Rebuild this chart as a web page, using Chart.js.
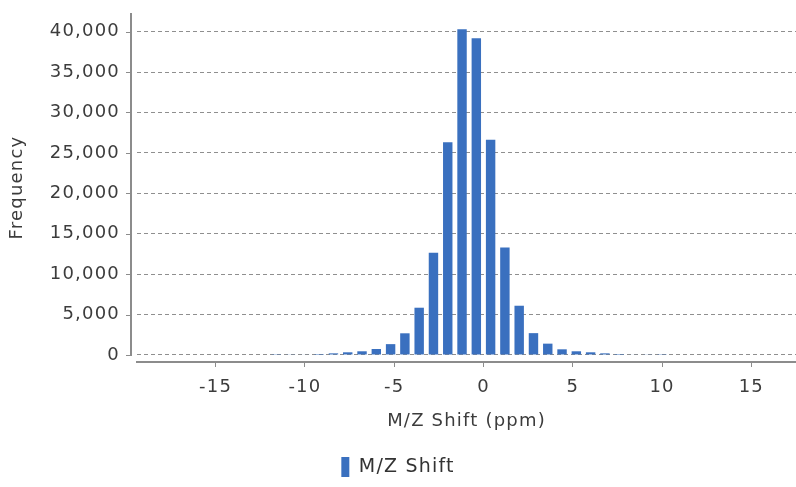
<!DOCTYPE html>
<html>
<head>
<meta charset="utf-8">
<title>M/Z Shift histogram</title>
<script src="https://cdn.jsdelivr.net/npm/chart.js@4.4.0/dist/chart.umd.min.js"></script>
<style>
    html, body { margin: 0; padding: 0; background: #ffffff; }
    #wrap { position: relative; width: 796px; height: 487px; }
</style>
</head>
<body>
<div id="wrap"><canvas id="shiftChart"></canvas></div>
<script>
// Histogram of M/Z shift (ppm), bins 0.8 ppm wide

const binCenters = [-11.6, -10.8, -10.0, -9.2, -8.4, -7.6, -6.8, -6.0, -5.2, -4.4, -3.6, -2.8, -2.0, -1.2,
                    -0.4, 0.4, 1.2, 2.0, 2.8, 3.6, 4.4, 5.2, 6.0, 6.8, 7.6, 8.4, 9.2, 10.0];
const frequencies = [25, 45, 70, 120, 200, 330, 455, 740, 1340, 2680, 5845, 12630, 26310, 40280,
                     39170, 26630, 13280, 6090, 2700, 1400, 700, 455, 330, 200, 120, 70, 45, 25];

const xTicks = [-15, -10, -5, 0, 5, 10, 15];
const yTicks = [0, 5000, 10000, 15000, 20000, 25000, 30000, 35000, 40000];

const seriesLabel = 'M/Z Shift';
const xTitle = 'M/Z Shift (ppm)';
const yTitle = 'Frequency';

const BAR_COLOR = '#3a70bf';
const AXIS_COLOR = '#8c8c8c';
const GRID_COLOR = '#8f8f8f';
const TEXT_COLOR = '#3c3c3c';
const LETTER_SPACING = '1.2px';

Chart.defaults.font.family = '"DejaVu Sans", Verdana, sans-serif';
Chart.defaults.font.size = 18;
Chart.defaults.color = TEXT_COLOR;

// wide letter spacing + the y axis line drawn a little left of the plot
const axisLinePlugin = {
    id: 'axisLine',
    beforeLayout(chart) {
        chart.ctx.letterSpacing = LETTER_SPACING;
    },
    beforeDraw(chart) {
        chart.ctx.letterSpacing = LETTER_SPACING;
    },
    afterDraw(chart) {
        const ctx = chart.ctx;
        const yScale = chart.scales.y;
        const x0 = chart.chartArea.left - 6;
        ctx.save();
        ctx.strokeStyle = AXIS_COLOR;
        ctx.lineWidth = 2;
        ctx.beginPath();
        ctx.moveTo(x0, yScale.top);
        ctx.lineTo(x0, Math.round(yScale.getPixelForValue(0)) + 1);
        ctx.stroke();
        ctx.lineWidth = 1;
        yTicks.forEach(v => {
            const py = Math.round(yScale.getPixelForValue(v)) + 0.5;
            ctx.beginPath();
            ctx.moveTo(x0 - 5, py);
            ctx.lineTo(x0, py);
            ctx.stroke();
        });
        ctx.restore();
    }
};

const ctx = document.getElementById('shiftChart');

new Chart(ctx, {
    type: 'bar',
    data: {
        datasets: [{
            label: seriesLabel,
            data: binCenters.map((c, i) => ({ x: c, y: frequencies[i] })),
            backgroundColor: BAR_COLOR,
            borderWidth: 0,
            barPercentage: 0.66,
            categoryPercentage: 1.0
        }]
    },
    options: {
        responsive: true,
        maintainAspectRatio: false,
        animation: false,
        layout: {
            padding: { top: 13, left: 0, right: 0, bottom: 0 }
        },
        plugins: {
            tooltip: { enabled: false },
            legend: {
                position: 'bottom',
                labels: {
                    boxWidth: 8,
                    boxHeight: 20,
                    padding: 0,
                    color: '#333333',
                    font: { size: 19 }
                }
            }
        },
        scales: {
            x: {
                type: 'linear',
                min: -19.4,
                max: 17.5,
                offset: false,
                grid: {
                    offset: false,
                    drawOnChartArea: false,
                    drawTicks: true,
                    tickLength: 5,
                    tickColor: AXIS_COLOR
                },
                border: { display: true, color: AXIS_COLOR, width: 2 },
                ticks: { padding: 10, maxRotation: 0 },
                title: {
                    display: true,
                    text: xTitle,
                    color: TEXT_COLOR,
                    font: { size: 18 },
                    padding: { top: 0, bottom: 25 }
                },
                afterBuildTicks: scale => {
                    scale.ticks = xTicks.map(v => ({ value: v }));
                },
                afterFit: scale => {
                    scale.height = 95;
                }
            },
            y: {
                min: -870,
                max: 42300,
                grid: {
                    drawOnChartArea: true,
                    drawTicks: false,
                    color: GRID_COLOR,
                    lineWidth: 1
                },
                border: { display: false, dash: [4, 3] },
                ticks: { padding: 17 },
                title: {
                    display: true,
                    text: yTitle,
                    color: TEXT_COLOR,
                    font: { size: 18 },
                    padding: { top: 7, bottom: 0 }
                },
                afterBuildTicks: scale => {
                    scale.ticks = yTicks.map(v => ({ value: v }));
                },
                afterFit: scale => {
                    scale.width = 137;
                    scale.paddingTop = 0;
                    scale.paddingBottom = 0;
                }
            }
        }
    },
    plugins: [axisLinePlugin]
});
</script>
</body>
</html>
